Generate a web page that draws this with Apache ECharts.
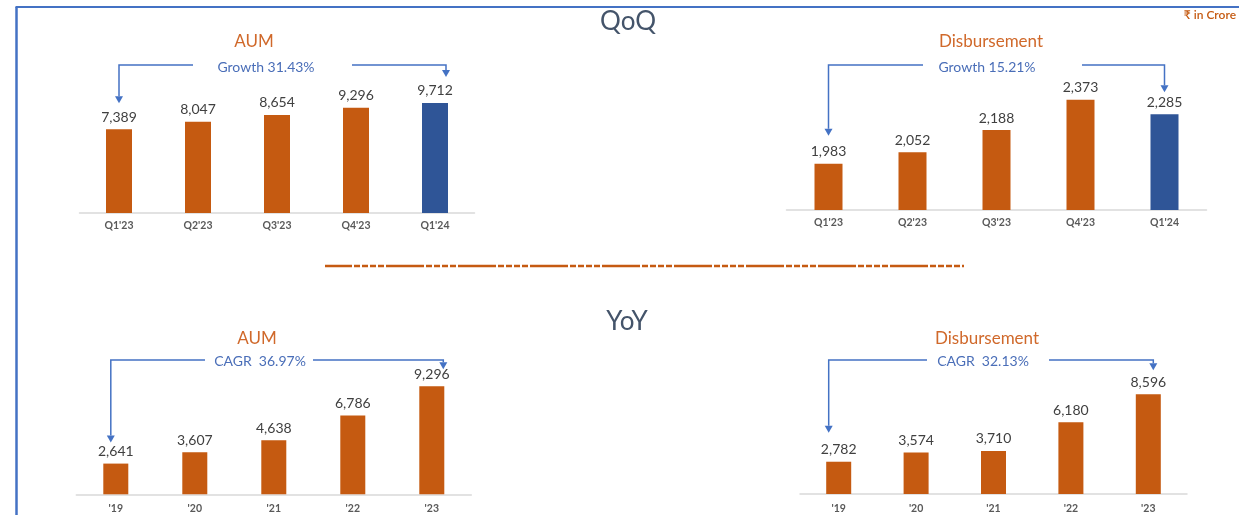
<!DOCTYPE html>
<html>
<head>
<meta charset="utf-8">
<script src="https://cdn.jsdelivr.net/npm/echarts@6/dist/echarts.min.js"></script>
<style>
  html, body { margin: 0; padding: 0; background: #ffffff; }
  #chart { width: 1239px; height: 515px; }
</style>
</head>
<body>
<div id="chart"></div>
<script>
// Category labels
const quarters = ["Q1'23", "Q2'23", "Q3'23", "Q4'23", "Q1'24"];
const years = ["'19", "'20", "'21", "'22", "'23"];

// Values, ₹ in Crore
const aumQoQ = [7389, 8047, 8654, 9296, 9712];
const disbQoQ = [1983, 2052, 2188, 2373, 2285];
const aumYoY = [2641, 3607, 4638, 6786, 9296];
const disbYoY = [2782, 3574, 3710, 6180, 8596];

// Growth annotations
const growthNotes = ['Growth 31.43%', 'Growth 15.21%', 'CAGR  36.97%', 'CAGR  32.13%'];
const panelTitles = ['AUM', 'Disbursement', 'AUM', 'Disbursement'];

const ORANGE = '#C55A11';
const BLUE_BAR = '#2F5597';
const ARROW = '#4472C4';
const FONT = 'Lato, "Noto Sans", "DejaVu Sans", sans-serif';

// Layout of each small chart
const panels = [
  { cats: quarters, values: aumQoQ, highlightLast: true,
    grid: { left: 79.5, top: 77, width: 395, height: 136 }, yMin: 0, yMax: 12000, barWidth: 26,
    titleAt: [254, 42], lineY: 65, gapL: 193, gapR: 352, noteAt: [266, 67],
    leftArrow: { dx: 0, dy: 26 }, rightArrow: { dx: 11, dy: 26 }, catMargin: 7 },
  { cats: quarters, values: disbQoQ, highlightLast: true,
    grid: { left: 786.5, top: 79, width: 420, height: 131 }, yMin: 1700, yMax: 2500, barWidth: 28,
    titleAt: [991, 42], lineY: 65, gapL: 923, gapR: 1082, noteAt: [987, 67],
    leftArrow: { dx: 0, dy: 28 }, rightArrow: { dx: 0, dy: 22 }, catMargin: 7 },
  { cats: years, values: aumYoY, highlightLast: false,
    grid: { left: 76.3, top: 378, width: 395, height: 116.3 }, yMin: 0, yMax: 10000, barWidth: 25,
    titleAt: [257, 339], lineY: 360, gapL: 205, gapR: 313, noteAt: [260, 361],
    leftArrow: { dx: -5, dy: 21 }, rightArrow: { dx: 11.5, dy: 17 }, catMargin: 9 },
  { cats: years, values: disbYoY, highlightLast: false,
    grid: { left: 800, top: 378, width: 387, height: 116 }, yMin: 0, yMax: 10000, barWidth: 25,
    titleAt: [987, 339], lineY: 360, gapL: 927, gapR: 1049, noteAt: [983, 361],
    leftArrow: { dx: -10, dy: 29 }, rightArrow: { dx: 5, dy: 24 }, catMargin: 9 }
];

const chart = echarts.init(document.getElementById('chart'), null, { renderer: 'canvas' });

const option = {
  animation: false,
  backgroundColor: '#ffffff',
  grid: panels.map(p => Object.assign({ containLabel: false }, p.grid)),
  xAxis: panels.map((p, i) => ({
    type: 'category',
    gridIndex: i,
    data: p.cats,
    axisLine: { show: true, lineStyle: { color: '#D9D9D9', width: 1.5 } },
    axisTick: { show: false },
    axisLabel: { color: '#595959', fontSize: 10.5, fontWeight: 'bold', fontFamily: FONT, margin: p.catMargin },
    splitLine: { show: false }
  })),
  yAxis: panels.map((p, i) => ({
    type: 'value',
    gridIndex: i,
    min: p.yMin,
    max: p.yMax,
    show: false,
    splitLine: { show: false }
  })),
  series: panels.map((p, i) => ({
    type: 'bar',
    xAxisIndex: i,
    yAxisIndex: i,
    data: p.values,
    barWidth: p.barWidth,
    itemStyle: {
      color: params => (p.highlightLast && params.dataIndex === p.values.length - 1) ? BLUE_BAR : ORANGE
    },
    label: {
      show: true,
      position: 'top',
      distance: 5,
      color: '#404040',
      fontSize: 14,
      fontFamily: FONT,
      formatter: params => params.value.toLocaleString('en-US')
    }
  }))
};
chart.setOption(option);

const centered = { align: 'center', verticalAlign: 'middle', textAlign: 'center', textVerticalAlign: 'middle' };

// Static decorations: frame, headings, unit note and divider
const graphics = [
  { type: 'line', shape: { x1: 16.5, y1: 7, x2: 16.5, y2: 515 }, style: { stroke: ARROW, lineWidth: 2.5 } },
  { type: 'line', shape: { x1: 15.5, y1: 7, x2: 1239, y2: 7 }, style: { stroke: ARROW, lineWidth: 2 } },
  { type: 'text', x: 628, y: 22, style: Object.assign({ text: 'QoQ', fill: '#44546A', fontSize: 26, fontFamily: FONT }, centered) },
  { type: 'text', x: 627, y: 322, style: Object.assign({ text: 'YoY', fill: '#44546A', fontSize: 26, fontFamily: FONT }, centered) },
  { type: 'text', x: 1236, y: 15, style: { text: '₹ in Crore', fill: ORANGE, fontSize: 12, fontWeight: 600, fontFamily: FONT, align: 'right', verticalAlign: 'middle', textAlign: 'right', textVerticalAlign: 'middle' } },
  { type: 'line', shape: { x1: 325, y1: 266, x2: 964, y2: 266 },
    style: { stroke: ORANGE, lineWidth: 2.5, lineDash: [38, 2, 6, 2, 6, 2, 6, 2, 6, 2], lineDashOffset: 11 } }
];

// Panel headings, growth notes and bracket arrows tied to the first and last bars
panels.forEach((p, i) => {
  const last = p.values.length - 1;
  const first = chart.convertToPixel({ seriesIndex: i }, [0, p.values[0]]);
  const end = chart.convertToPixel({ seriesIndex: i }, [last, p.values[last]]);
  const xL = first[0] + p.leftArrow.dx;
  const tipL = first[1] - p.leftArrow.dy;
  const xR = end[0] + p.rightArrow.dx;
  const tipR = end[1] - p.rightArrow.dy;
  const head = 7;

  graphics.push(
    { type: 'text', x: p.titleAt[0], y: p.titleAt[1],
      style: Object.assign({ text: panelTitles[i], fill: '#D0692B', fontSize: 17, fontFamily: FONT }, centered) },
    { type: 'text', x: p.noteAt[0], y: p.noteAt[1],
      style: Object.assign({ text: growthNotes[i], fill: '#4A6EB8', fontSize: 14, fontFamily: FONT }, centered) },
    { type: 'polyline', shape: { points: [[xL, tipL - head], [xL, p.lineY], [p.gapL, p.lineY]] },
      style: { stroke: ARROW, lineWidth: 1.5, fill: null } },
    { type: 'polyline', shape: { points: [[p.gapR, p.lineY], [xR, p.lineY], [xR, tipR - head]] },
      style: { stroke: ARROW, lineWidth: 1.5, fill: null } },
    { type: 'polygon', shape: { points: [[xL - 4, tipL - head], [xL + 4, tipL - head], [xL, tipL]] },
      style: { fill: ARROW } },
    { type: 'polygon', shape: { points: [[xR - 4, tipR - head], [xR + 4, tipR - head], [xR, tipR]] },
      style: { fill: ARROW } }
  );
});

chart.setOption({ graphic: { elements: graphics } });
</script>
</body>
</html>
